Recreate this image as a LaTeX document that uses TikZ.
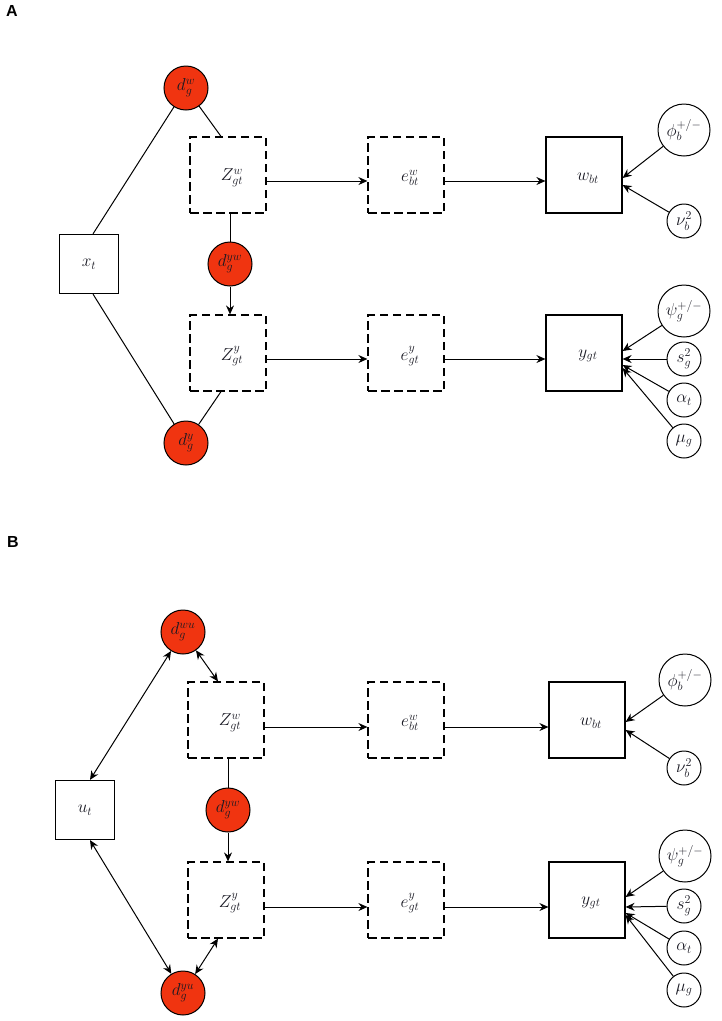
\documentclass[tikz,border=0pt]{standalone}
\usepackage{fontspec}
\newfontfamily\labfont{Liberation Sans}
\usetikzlibrary{arrows.meta,calc}
\definecolor{dred}{RGB}{240,52,16}
\definecolor{txt}{RGB}{25,25,35}
\begin{document}
\begin{tikzpicture}[x=1pt,y=-1pt,
  every node/.style={text=txt,font=\fontsize{18}{21}\selectfont},
  obs/.style={draw=black,line width=1.2pt,minimum size=76pt,inner sep=0pt},
  lat/.style={obs,dash pattern=on 8.5pt off 4.5pt},
  xbox/.style={draw=black,line width=1.2pt,minimum size=59pt,inner sep=0pt},
  rc/.style={circle,draw=black,line width=1pt,fill=dred,minimum size=44pt,inner sep=0pt},
  pbig/.style={circle,draw=black,line width=1pt,fill=white,minimum size=52pt,inner sep=0pt},
  psm/.style={circle,draw=black,line width=1pt,fill=white,minimum size=34pt,inner sep=0pt},
  boxtxt/.style={label={[shift={(4pt,-3pt)}]center:#1}},
  ln/.style={draw=black,line width=1pt},
  arr/.style={ln,-{Stealth[length=9pt,width=8pt,inset=3pt]}},
  darr/.style={ln,{Stealth[length=9pt,width=8pt,inset=3pt]}-{Stealth[length=9pt,width=8pt,inset=3pt]}},
  panlab/.style={text=black,font=\labfont\bfseries\fontsize{16}{18}\selectfont}]
\path[use as bounding box] (0,0) rectangle (721,1021);

% ---------------- Panel A ----------------
\node[panlab] (lA) at (12,11) {A};
\node[rc] (Adw) at (186,88) {$d_g^{w}$};
\node[lat,boxtxt={$Z_{gt}^{w}$}] (AZw) at (228,175) {};
\node[lat,boxtxt={$e_{bt}^{w}$}] (Aew) at (406,175) {};
\node[obs,boxtxt={$w_{bt}$}] (Aw) at (584,175) {};
\node[pbig] (Aphi) at (684,130) {$\phi_b^{+/-}$};
\node[psm] (Anu) at (684,221) {$\nu_b^2$};
\node[xbox] (Ax) at (89,264) {$x_t$};
\node[rc] (Adyw) at (230,264) {$d_g^{yw}$};
\node[lat,boxtxt={$Z_{gt}^{y}$}] (AZy) at (228,353) {};
\node[lat,boxtxt={$e_{gt}^{y}$}] (Aey) at (406,353) {};
\node[obs,boxtxt={$y_{gt}$}] (Ay) at (584,353) {};
\node[pbig] (Apsi) at (684,311) {$\psi_g^{+/-}$};
\node[psm] (As) at (684,359) {$s_g^2$};
\node[psm] (Aal) at (684,400) {$\alpha_t$};
\node[psm] (Amu) at (684,441) {$\mu_g$};
\node[rc] (Ady) at (186,443) {$d_g^{y}$};

\draw[ln] (Adw) -- ([xshift=4pt]Ax.north);
\draw[ln] (Adw) -- ([xshift=-7pt]AZw.north);
\draw[ln] ([xshift=2pt]AZw.south) -- (Adyw);
\draw[arr] (Adyw) -- ([xshift=2pt]AZy.north);
\draw[ln] ([xshift=4pt]Ax.south) -- (Ady);
\draw[ln] ([xshift=-7pt]AZy.south) -- (Ady);
\draw[arr] ([yshift=-6pt]AZw.east) -- ([yshift=-6pt]Aew.west);
\draw[arr] ([yshift=-6pt]Aew.east) -- ([yshift=-6pt]Aw.west);
\draw[arr] ([yshift=-6pt]AZy.east) -- ([yshift=-6pt]Aey.west);
\draw[arr] ([yshift=-6pt]Aey.east) -- ([yshift=-6pt]Ay.west);
\draw[arr] (Aphi) -- ([yshift=-3pt]Aw.east);
\draw[arr] (Anu) -- ([yshift=-10pt]Aw.east);
\draw[arr] (Apsi) -- ([yshift=2pt]Ay.east);
\draw[arr] (As) -- ([yshift=-6pt]Ay.east);
\draw[arr] (Aal) -- ([yshift=-12pt]Ay.east);
\draw[arr] (Amu) -- ([yshift=-15pt]Ay.east);

% ---------------- Panel B ----------------
\node[panlab] (lB) at (13,542) {B};
\node[rc] (Bdwu) at (183,632) {$d_g^{wu}$};
\node[lat,boxtxt={$Z_{gt}^{w}$}] (BZw) at (226,720) {};
\node[lat,boxtxt={$e_{bt}^{w}$}] (Bew) at (406,720) {};
\node[obs,boxtxt={$w_{bt}$}] (Bw) at (587,720) {};
\node[pbig] (Bphi) at (685,680) {$\phi_b^{+/-}$};
\node[psm] (Bnu) at (684,768) {$\nu_b^2$};
\node[xbox] (Bu) at (85,810) {$u_t$};
\node[rc] (Bdyw) at (228,810) {$d_g^{yw}$};
\node[lat,boxtxt={$Z_{gt}^{y}$}] (BZy) at (226,900) {};
\node[lat,boxtxt={$e_{gt}^{y}$}] (Bey) at (406,900) {};
\node[obs,boxtxt={$y_{gt}$}] (By) at (587,900) {};
\node[pbig] (Bpsi) at (685,856) {$\psi_g^{+/-}$};
\node[psm] (Bs) at (684,906) {$s_g^2$};
\node[psm] (Bal) at (684,948) {$\alpha_t$};
\node[psm] (Bmu) at (684,990) {$\mu_g$};
\node[rc] (Bdyu) at (183,993) {$d_g^{yu}$};

\draw[darr] (Bdwu) -- ([xshift=5pt]Bu.north);
\draw[darr] (Bdwu) -- ([xshift=-8pt]BZw.north);
\draw[ln] ([xshift=2pt]BZw.south) -- (Bdyw);
\draw[arr] (Bdyw) -- ([xshift=2pt]BZy.north);
\draw[darr] ([xshift=5pt]Bu.south) -- (Bdyu);
\draw[darr] ([xshift=-8pt]BZy.south) -- (Bdyu);
\draw[arr] ([yshift=-7pt]BZw.east) -- ([yshift=-7pt]Bew.west);
\draw[arr] ([yshift=-7pt]Bew.east) -- ([yshift=-7pt]Bw.west);
\draw[arr] ([yshift=-7pt]BZy.east) -- ([yshift=-7pt]Bey.west);
\draw[arr] ([yshift=-7pt]Bey.east) -- ([yshift=-7pt]By.west);
\draw[arr] (Bphi) -- ([yshift=-2pt]Bw.east);
\draw[arr] (Bnu) -- ([yshift=-10pt]Bw.east);
\draw[arr] (Bpsi) -- ([yshift=3pt]By.east);
\draw[arr] (Bs) -- ([yshift=-7pt]By.east);
\draw[arr] (Bal) -- ([yshift=-13pt]By.east);
\draw[arr] (Bmu) -- ([yshift=-15pt]By.east);
\end{tikzpicture}
\end{document}
